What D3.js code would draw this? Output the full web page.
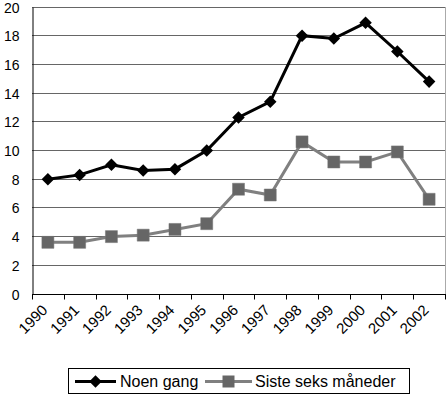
<!DOCTYPE html>
<html>
<head>
<meta charset="utf-8">
<script src="https://cdn.jsdelivr.net/npm/d3@7"></script>
<style>
  body { margin: 0; background: #fff; }
  svg text { font-family: "Liberation Sans", Arial, sans-serif; fill: #000; }
</style>
</head>
<body>
<svg width="447" height="396"></svg>
<script>
var years = ["1990", "1991", "1992", "1993", "1994", "1995", "1996", "1997", "1998", "1999", "2000", "2001", "2002"];
var noenGang = [8.0, 8.3, 9.0, 8.6, 8.7, 10.0, 12.3, 13.4, 18.0, 17.8, 18.9, 16.9, 14.8];
var sisteSeks = [3.6, 3.6, 4.0, 4.1, 4.5, 4.9, 7.3, 6.9, 10.6, 9.2, 9.2, 9.9, 6.6];
var yTicks = [0, 2, 4, 6, 8, 10, 12, 14, 16, 18, 20];
var seriesNames = ["Noen gang", "Siste seks måneder"];

function LineChart(){
  var svg = d3.select("svg")
    , xScale = d3.scaleBand().domain(years).range([32, 445])
    , yScale = d3.scaleLinear().domain([0, 20]).range([294, 7])
    , diamond = d3.symbol().type(d3.symbolDiamond2).size(100)
    , square = d3.symbol().type(d3.symbolSquare).size(144);

  function cx(d, i) { return xScale(years[i]) + xScale.bandwidth() / 2; }

  // gridlines
  svg.append("g")
    .selectAll("line")
    .data(yTicks.filter(function(t) { return t > 0; }))
    .enter().append("line")
      .attr("x1", 32).attr("x2", 445)
      .attr("y1", function(d) { return yScale(d); })
      .attr("y2", function(d) { return yScale(d); })
      .attr("stroke", "#666")
      .attr("stroke-width", 1)
      .attr("shape-rendering", "crispEdges");

  // right border of plot
  svg.append("line")
    .attr("x1", 445.5).attr("x2", 445.5)
    .attr("y1", yScale(20)).attr("y2", yScale(0))
    .attr("stroke", "#aaa");

  // y axis
  var yAxis = svg.append("g")
    .attr("transform", "translate(32.5,0)")
    .call(d3.axisLeft(yScale).tickValues(yTicks).tickSize(0).tickPadding(13));
  yAxis.select(".domain").attr("stroke", "#000");
  yAxis.selectAll("text")
    .attr("font-family", null)
    .style("font-size", "14px")
    .attr("dy", "0.36em");

  // x axis with ticks on band boundaries
  var xAxis = svg.append("g").attr("transform", "translate(0,294.5)");
  xAxis.append("line")
    .attr("x1", 32).attr("x2", 446)
    .attr("stroke", "#000");
  xAxis.selectAll("line.tick")
    .data(years.concat(["end"]))
    .enter().append("line")
      .attr("class", "tick")
      .attr("x1", function(d, i) { return Math.round(32 + i * xScale.step()) + 0.5; })
      .attr("x2", function(d, i) { return Math.round(32 + i * xScale.step()) + 0.5; })
      .attr("y1", 0).attr("y2", 5)
      .attr("stroke", "#000");
  xAxis.selectAll("text")
    .data(years)
    .enter().append("text")
      .attr("text-anchor", "end")
      .attr("dy", "0.71em")
      .style("font-size", "15px")
      .attr("transform", function(d, i) { return "translate(" + (cx(d, i) - 7) + ",9) rotate(-45)"; })
      .text(function(d) { return d; });

  // series
  var line = d3.line()
    .x(function(d, i) { return cx(d, i); })
    .y(function(d) { return yScale(d); });

  svg.append("path")
    .datum(sisteSeks)
    .attr("d", line)
    .attr("fill", "none")
    .attr("stroke", "#808080")
    .attr("stroke-width", 3);
  svg.append("g")
    .selectAll("path")
    .data(sisteSeks)
    .enter().append("path")
      .attr("d", square)
      .attr("transform", function(d, i) { return "translate(" + cx(d, i) + "," + yScale(d) + ")"; })
      .attr("fill", "#666")
      .attr("stroke", "#777")
      .attr("stroke-width", 0.5);

  svg.append("path")
    .datum(noenGang)
    .attr("d", line)
    .attr("fill", "none")
    .attr("stroke", "#000")
    .attr("stroke-width", 3);
  svg.append("g")
    .selectAll("path")
    .data(noenGang)
    .enter().append("path")
      .attr("d", diamond)
      .attr("transform", function(d, i) { return "translate(" + cx(d, i) + "," + yScale(d) + ")"; })
      .attr("fill", "#000");

  // legend
  var legend = svg.append("g");
  legend.append("rect")
    .attr("x", 68.5).attr("y", 368.5)
    .attr("width", 341).attr("height", 25)
    .attr("fill", "#fff")
    .attr("stroke", "#000");
  var items = [
    {name: seriesNames[0], x0: 75, x1: 116, tx: 120, color: "#000", mark: diamond, fill: "#000"},
    {name: seriesNames[1], x0: 205, x1: 252, tx: 255, color: "#808080", mark: square, fill: "#666"}
  ];
  var item = legend.selectAll("g.item")
    .data(items)
    .enter().append("g").attr("class", "item");
  item.append("line")
    .attr("x1", function(d) { return d.x0; })
    .attr("x2", function(d) { return d.x1; })
    .attr("y1", 381.5).attr("y2", 381.5)
    .attr("stroke", function(d) { return d.color; })
    .attr("stroke-width", 3);
  item.append("path")
    .attr("d", function(d) { return d.mark(); })
    .attr("transform", function(d) { return "translate(" + (d.x0 + d.x1) / 2 + ",381.5)"; })
    .attr("fill", function(d) { return d.fill; });
  item.append("text")
    .attr("x", function(d) { return d.tx; })
    .attr("y", 381)
    .attr("dy", "0.36em")
    .style("font-size", "16px")
    .text(function(d) { return d.name; });
}

LineChart();
</script>
</body>
</html>
